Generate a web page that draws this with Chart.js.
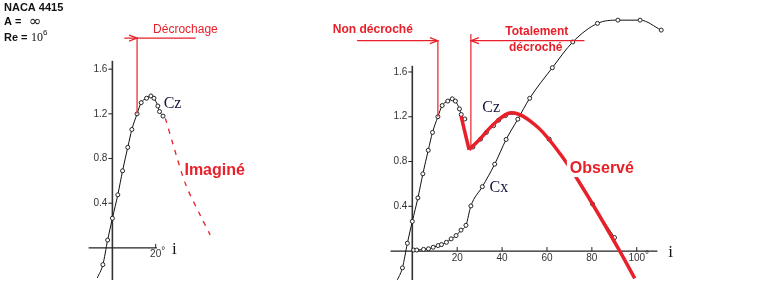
<!DOCTYPE html>
<html><head><meta charset="utf-8">
<script src="https://cdn.jsdelivr.net/npm/chart.js@4.4.1/dist/chart.umd.min.js"></script>
<style>
html,body{margin:0;padding:0;background:#fff;}
#wrap{position:relative;width:763px;height:285px;overflow:hidden;background:#fff;}
canvas{position:absolute;top:0;}
#cL{left:0;} #cR{left:260px;}
</style></head><body>
<div id="wrap">
<canvas id="cL" width="260" height="285"></canvas>
<canvas id="cR" width="503" height="285"></canvas>
</div>
<script>
// ---- data (angle of attack i in degrees, coefficients) ----
const czAngle = [-7.0,-4.4,-2.2,0,2.5,4.7,7.1,9.0,11.4,13.3,15.8,17.8,19.2,21.0,21.8,23.4];
const czValue = [-0.27,-0.15,0.07,0.265,0.475,0.69,0.90,1.06,1.20,1.30,1.34,1.36,1.34,1.27,1.22,1.18];

const imagAngle = [24.5,28.1,34.0,40.7,45.2];
const imagValue = [1.16,0.922,0.561,0.289,0.116];

const postAngle = [27.0,30.4,33.0,36.2,38.5,41.5,46.0,53.0,61.0,80.3,90.1];
const postValue = [0.93,1.0,1.06,1.12,1.17,1.21,1.225,1.15,1.0,0.42,0.12];
const postMarked = [true,true,true,true,true,true,false,false,true,true,true];

const cxAngle = [0.6,2.0,5.0,7.2,9.3,11.5,13.0,15.2,17.3,19.5,21.7,23.9,26.1,31.2,36.7,41.8,47.0,52.3,62.4,71.5,82.5,91.6,101.5,110.9];
const cxValue = [0.009,0.009,0.015,0.02,0.034,0.049,0.058,0.078,0.109,0.138,0.187,0.23,0.403,0.575,0.776,0.997,1.178,1.365,1.638,1.868,2.034,2.063,2.063,1.974];

const dropAngle = [21.7,25.3];
const dropValue = [1.207,0.905];

const obsAngle = [25.3,30.4,35.5,44.3,55.9,66.1,75.9,92.0,99.1];
const obsValue = [0.905,1.006,1.12,1.235,1.106,0.862,0.566,0.015,-0.244];

const yTicks = [0.4,0.8,1.2,1.6];
const yTickLabels = ['0.4','0.8','1.2','1.6'];
const xTicksLeft = [20];
const xTicksRight = [20,40,60,80,100];

const stallAngle = 11.4;      // début du décrochage
const fullStallAngle = 26.1;  // décrochage total

// ---- helpers ----
const RED = '#e8202a';
const pts = (a,v) => a.map((x,i)=>({x:x,y:v[i]}));

function blackSeries(a,v,radii){
  return {data:pts(a,v), borderColor:'#111', borderWidth:1,
    pointRadius: radii || 2, pointBorderWidth:1, pointBorderColor:'#222', pointBackgroundColor:'#fff',
    cubicInterpolationMode:'monotone', order:5};
}

function baseOptions(xmin,xmax,ymin,ymax){
  return {responsive:false, animation:false, events:[], layout:{padding:0},
    plugins:{legend:{display:false}, tooltip:{enabled:false}, title:{display:false}},
    scales:{x:{type:'linear',min:xmin,max:xmax,display:false},
            y:{type:'linear',min:ymin,max:ymax,display:false}}};
}

function arrowHead(ctx,x,y,dir){
  ctx.beginPath();
  ctx.moveTo(x-dir*8,y-3); ctx.lineTo(x,y); ctx.lineTo(x-dir*8,y+3);
  ctx.stroke();
}

function axesPlugin(spec){
  return {
    id:'axesCustom',
    beforeDatasetsDraw(chart){
      const ctx=chart.ctx, xs=chart.scales.x, ys=chart.scales.y;
      const x0=xs.getPixelForValue(0), y0=ys.getPixelForValue(0);
      ctx.save();
      ctx.strokeStyle='#333'; ctx.lineWidth=1.6;
      ctx.beginPath();
      ctx.moveTo(x0, ys.getPixelForValue(ys.min)); ctx.lineTo(x0, ys.getPixelForValue(spec.yTop));
      ctx.stroke();
      ctx.strokeStyle='#222'; ctx.lineWidth=1.3;
      ctx.beginPath();
      ctx.moveTo(xs.getPixelForValue(spec.xFrom), y0); ctx.lineTo(xs.getPixelForValue(spec.xTo), y0);
      ctx.stroke();
      ctx.lineWidth=1;
      ctx.font='10px "Liberation Sans", Arial, sans-serif'; ctx.fillStyle='#333';
      ctx.textAlign='right'; ctx.textBaseline='middle';
      yTicks.forEach((v,k)=>{
        const y=ys.getPixelForValue(v);
        ctx.beginPath(); ctx.moveTo(x0-4,y); ctx.lineTo(x0,y); ctx.stroke();
        ctx.fillText(yTickLabels[k], x0-5, y);
      });
      ctx.textAlign='center';
      spec.xTicks.forEach((v,k)=>{
        const x=xs.getPixelForValue(v);
        ctx.beginPath(); ctx.moveTo(x,y0-4); ctx.lineTo(x,y0); ctx.stroke();
        ctx.fillText(String(v), x, y0+spec.xLabelOffset);
        if(k===spec.xTicks.length-1){
          const w=ctx.measureText(String(v)).width;
          ctx.textAlign='left';
          ctx.fillText('°', x+w/2, y0+spec.xLabelOffset-3);
          ctx.textAlign='center';
        }
      });
      ctx.font='17px "Liberation Serif", "Times New Roman", serif'; ctx.fillStyle='#111';
      ctx.textAlign='left'; ctx.textBaseline='middle';
      ctx.fillText('i', xs.getPixelForValue(spec.iLabelAngle), y0+spec.iLabelDy);
      ctx.restore();
    },
    afterDatasetsDraw(chart){
      const ctx=chart.ctx, xs=chart.scales.x, ys=chart.scales.y;
      ctx.save();
      spec.annotate(ctx, (a)=>xs.getPixelForValue(a), (c)=>ys.getPixelForValue(c));
      ctx.restore();
    }
  };
}

function text(ctx,str,x,y,font,color,bg){
  ctx.font=font; ctx.textAlign='left'; ctx.textBaseline='middle';
  if(bg){ const w=ctx.measureText(str).width; ctx.fillStyle='#fff'; ctx.fillRect(x-3,y-9,w+6,18); }
  ctx.fillStyle=color; ctx.fillText(str,x,y);
}
const redBold = (s)=> 'bold '+s+'px "Liberation Sans", Arial, sans-serif';
const serif = '16px "Liberation Serif", "Times New Roman", serif';

const czRadii = czAngle.map((a,k)=> k===0 ? 0 : 2);

// ---- left chart ----
new Chart(document.getElementById('cL'), {
  type:'line',
  data:{datasets:[
    {data:pts(imagAngle,imagValue), borderColor:RED, borderWidth:1.3, borderDash:[5,6], pointRadius:0, tension:0.3, order:1},
    blackSeries(czAngle,czValue,czRadii)
  ]},
  options: baseOptions(-49.64, 65.91, -0.2877, 2.1745),
  plugins:[axesPlugin({yTop:1.675, xFrom:-11, xTo:20.6, xTicks:xTicksLeft, xLabelOffset:6, iLabelAngle:27.5, iLabelDy:2,
    annotate(ctx,X,Y){
      ctx.strokeStyle=RED; ctx.lineWidth=1.2;
      const yl=Y(1.878);
      ctx.beginPath(); ctx.moveTo(X(stallAngle), Y(1.2)); ctx.lineTo(X(stallAngle), yl);
      ctx.moveTo(X(5.5), yl); ctx.lineTo(X(38.5), yl); ctx.stroke();
      arrowHead(ctx, X(stallAngle), yl, 1);
      text(ctx,'Décrochage', X(18.8), Y(1.95), '12px "Liberation Sans", Arial, sans-serif', RED);
      text(ctx,'Cz', X(23.7), Y(1.293), serif, '#14143c');
      text(ctx,'Imaginé', X(33.3), Y(0.689), redBold(16), RED);
      // header
      ctx.font='bold 11px "Liberation Sans", Arial, sans-serif'; ctx.fillStyle='#111'; ctx.textBaseline='middle';
      ctx.fillText('NACA 4415', 4, 8);
      ctx.fillText('A = ', 4, 22);
      ctx.font='15px "DejaVu Sans", sans-serif'; ctx.fillText('∞', 29, 22);
      ctx.font='bold 11px "Liberation Sans", Arial, sans-serif'; ctx.fillText('Re = ', 4, 38);
      ctx.font='12px "Liberation Serif", serif'; ctx.fillText('10', 31, 38);
      ctx.font='8px "Liberation Sans", Arial, sans-serif'; ctx.fillText('6', 43, 33);
    }
  })]
});

// ---- right chart ----
new Chart(document.getElementById('cR'), {
  type:'line',
  data:{datasets:[
    {data:pts(dropAngle,dropValue), borderColor:RED, borderWidth:3.5, pointRadius:0, tension:0, order:0},
    {data:pts(obsAngle,obsValue), borderColor:RED, borderWidth:3.5, pointRadius:0, cubicInterpolationMode:'monotone', order:0},
    blackSeries(czAngle,czValue,czRadii),
    blackSeries(postAngle,postValue,postMarked.map(m=>m?2:0)),
    blackSeries(cxAngle,cxValue)
  ]},
  options: baseOptions(-65.63, 154.02, -0.2586, 2.1983),
  plugins:[axesPlugin({yTop:1.655, xFrom:-9.7, xTo:109.2, xTicks:xTicksRight, xLabelOffset:7, iLabelAngle:114.0, iLabelDy:1,
    annotate(ctx,X,Y){
      ctx.strokeStyle=RED; ctx.lineWidth=1.2;
      const yl=Y(1.88);
      ctx.beginPath();
      ctx.moveTo(X(stallAngle), Y(1.2)); ctx.lineTo(X(stallAngle), yl);
      ctx.moveTo(X(fullStallAngle), Y(0.92)); ctx.lineTo(X(fullStallAngle), Y(1.94));
      ctx.moveTo(X(-24.6), yl); ctx.lineTo(X(stallAngle), yl);
      ctx.moveTo(X(fullStallAngle), yl); ctx.lineTo(X(76.7), yl);
      ctx.stroke();
      arrowHead(ctx, X(stallAngle), yl, 1);
      arrowHead(ctx, X(fullStallAngle), yl, -1);
      text(ctx,'Non décroché', X(-35.4), Y(1.977), redBold(12), RED);
      text(ctx,'Totalement', X(41.4), Y(1.963), redBold(12), RED);
      text(ctx,'décroché', X(43.1), Y(1.816), redBold(12), RED);
      text(ctx,'Cz', X(31.2), Y(1.284), serif, '#14143c');
      text(ctx,'Cx', X(34.4), Y(0.569), serif, '#14143c');
      text(ctx,'Observé', X(70.2), Y(0.741), redBold(16), RED, true);
    }
  })]
});
</script>
</body></html>
